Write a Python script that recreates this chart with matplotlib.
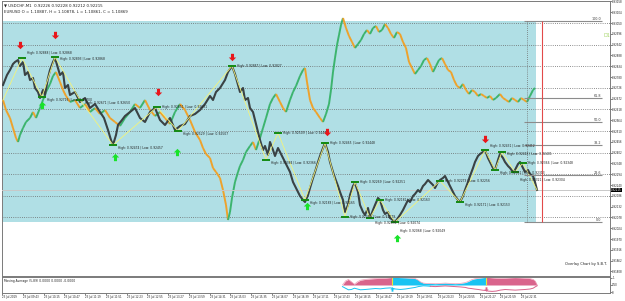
import numpy as np
import matplotlib.pyplot as plt
from matplotlib.collections import LineCollection
from matplotlib.patches import Rectangle

# ---- USDCHF M1 closes (bar position, price) ----
usd_bar = [3, 7, 10, 13, 15, 18, 20, 23, 25, 28, 30, 33, 35, 38, 40, 43, 45, 48, 50, 53,
           55, 58, 60, 63, 65, 68, 70, 75, 80, 85, 90, 95, 100, 104, 108, 111, 113, 116, 118, 122,
           125, 130, 135, 140, 145, 150, 155, 160, 165, 170, 175, 180, 185, 190, 195, 200, 205, 210, 213, 216,
           220, 225, 228, 232, 235, 238, 240, 243, 245, 248, 250, 253, 255, 258, 260, 263, 265, 268, 270, 273,
           275, 278, 280, 283, 285, 288, 290, 293, 295, 298, 300, 303, 305, 308, 310, 313, 315, 318, 320, 323,
           325, 328, 330, 333, 335, 338, 340, 343, 345, 348, 350, 353, 355, 358, 360, 363, 365, 368, 370, 373,
           375, 378, 380, 383, 385, 388, 390, 393, 395, 398, 400, 403, 405, 408, 410, 413, 415, 418, 420, 423,
           425, 428, 430, 433, 435, 438, 440, 443, 445, 448, 450, 453, 455, 458, 460, 463, 465, 468, 470, 473,
           475, 478, 480, 483, 485, 488, 490, 493, 495, 498, 500, 503, 505, 508, 510, 513, 515, 518, 520, 523,
           525, 528, 530, 533, 535, 537]
usd_close = [0.92740, 0.92790, 0.92815, 0.92845, 0.92855, 0.92865, 0.92835, 0.92855, 0.92790, 0.92805,
             0.92765, 0.92775, 0.92725, 0.92705, 0.92675, 0.92715, 0.92690, 0.92775, 0.92815, 0.92855,
             0.92875, 0.92825, 0.92790, 0.92805, 0.92725, 0.92740, 0.92690, 0.92705, 0.92655, 0.92675,
             0.92625, 0.92645, 0.92605, 0.92575, 0.92515, 0.92465, 0.92440, 0.92490, 0.92540, 0.92565,
             0.92585, 0.92605, 0.92625, 0.92575, 0.92555, 0.92605, 0.92625, 0.92565, 0.92540, 0.92575,
             0.92515, 0.92535, 0.92545, 0.92585, 0.92595, 0.92615, 0.92645, 0.92685, 0.92665, 0.92705,
             0.92725, 0.92765, 0.92805, 0.92835, 0.92795, 0.92740, 0.92705, 0.92725, 0.92665, 0.92675,
             0.92625, 0.92605, 0.92565, 0.92505, 0.92465, 0.92415, 0.92435, 0.92390, 0.92455, 0.92415,
             0.92385, 0.92425, 0.92405, 0.92375, 0.92355, 0.92325, 0.92305, 0.92255, 0.92235, 0.92205,
             0.92185, 0.92165, 0.92155, 0.92190, 0.92225, 0.92275, 0.92305, 0.92355, 0.92385, 0.92425,
             0.92450, 0.92405, 0.92355, 0.92305, 0.92275, 0.92235, 0.92205, 0.92165, 0.92105, 0.92140,
             0.92190, 0.92235, 0.92250, 0.92205, 0.92140, 0.92105, 0.92090, 0.92125, 0.92075, 0.92115,
             0.92140, 0.92175, 0.92165, 0.92115, 0.92095, 0.92105, 0.92075, 0.92065, 0.92055, 0.92075,
             0.92090, 0.92115, 0.92135, 0.92165, 0.92155, 0.92185, 0.92195, 0.92215, 0.92205, 0.92235,
             0.92245, 0.92265, 0.92255, 0.92240, 0.92225, 0.92255, 0.92265, 0.92275, 0.92285, 0.92255,
             0.92235, 0.92205, 0.92185, 0.92165, 0.92155, 0.92185, 0.92215, 0.92255, 0.92285, 0.92325,
             0.92355, 0.92385, 0.92395, 0.92405, 0.92415, 0.92375, 0.92355, 0.92325, 0.92315, 0.92365,
             0.92395, 0.92375, 0.92355, 0.92335, 0.92325, 0.92305, 0.92315, 0.92345, 0.92355, 0.92325,
             0.92305, 0.92315, 0.92295, 0.92285, 0.92255, 0.92215]

# ---- EURUSD overlay closes ----
eur_bar = [3, 6, 10, 13, 16, 18, 20, 23, 26, 30, 33, 36, 40, 43, 46, 50, 53, 56, 60, 63,
           66, 70, 75, 80, 85, 90, 95, 100, 105, 110, 115, 120, 125, 130, 135, 140, 145, 150, 155, 160,
           165, 170, 175, 180, 185, 190, 195, 200, 203, 206, 210, 213, 216, 220, 223, 226, 228, 230, 232, 235,
           238, 240, 243, 246, 250, 253, 256, 260, 263, 266, 270, 273, 276, 280, 283, 286, 290, 293, 296, 300,
           303, 305, 307, 310, 313, 316, 320, 323, 326, 329, 331, 333, 335, 337, 339, 341, 343, 346, 349, 352,
           355, 358, 361, 364, 367, 370, 373, 376, 379, 382, 385, 388, 391, 394, 397, 400, 403, 406, 409, 412,
           415, 418, 421, 424, 427, 430, 433, 436, 439, 442, 445, 448, 451, 454, 457, 460, 463, 466, 469, 472,
           475, 478, 481, 484, 487, 490, 493, 496, 500, 503, 506, 509, 512, 515, 518, 521, 524, 527, 530, 533,
           535]
eur_close = [1.10850, 1.10830, 1.10814, 1.10794, 1.10774, 1.10766, 1.10780, 1.10794, 1.10806, 1.10814,
             1.10826, 1.10814, 1.10834, 1.10850, 1.10866, 1.10882, 1.10898, 1.10906, 1.10886, 1.10870,
             1.10858, 1.10846, 1.10850, 1.10834, 1.10842, 1.10826, 1.10834, 1.10822, 1.10830, 1.10814,
             1.10806, 1.10798, 1.10814, 1.10826, 1.10842, 1.10834, 1.10850, 1.10830, 1.10818, 1.10826,
             1.10814, 1.10802, 1.10826, 1.10842, 1.10830, 1.10810, 1.10786, 1.10770, 1.10754, 1.10742,
             1.10734, 1.10714, 1.10706, 1.10694, 1.10670, 1.10640, 1.10610, 1.10626, 1.10654, 1.10686,
             1.10706, 1.10718, 1.10730, 1.10746, 1.10758, 1.10766, 1.10750, 1.10774, 1.10794, 1.10814,
             1.10842, 1.10854, 1.10862, 1.10846, 1.10834, 1.10826, 1.10850, 1.10866, 1.10878, 1.10898,
             1.10910, 1.10914, 1.10886, 1.10850, 1.10834, 1.10826, 1.10814, 1.10806, 1.10822, 1.10842,
             1.10870, 1.10906, 1.10934, 1.10960, 1.10980, 1.11000, 1.11014, 1.10994, 1.10978, 1.10966,
             1.10954, 1.10962, 1.10970, 1.10982, 1.10990, 1.10982, 1.10994, 1.10998, 1.10986, 1.10990,
             1.11002, 1.10994, 1.10982, 1.10974, 1.10986, 1.10982, 1.10966, 1.10954, 1.10926, 1.10914,
             1.10902, 1.10910, 1.10918, 1.10930, 1.10934, 1.10922, 1.10906, 1.10918, 1.10930, 1.10934,
             1.10922, 1.10910, 1.10906, 1.10890, 1.10878, 1.10874, 1.10882, 1.10870, 1.10862, 1.10870,
             1.10866, 1.10858, 1.10862, 1.10858, 1.10854, 1.10858, 1.10850, 1.10854, 1.10862, 1.10854,
             1.10850, 1.10846, 1.10854, 1.10850, 1.10846, 1.10854, 1.10850, 1.10846, 1.10858, 1.10870,
             1.10874]

# ---- zigzag pivots with their High/Low tags ----
zz_bar = [3, 22, 42, 55, 80, 113, 157, 178, 232, 266, 278, 305, 325, 345, 355, 370, 380, 395,
          440, 460, 485, 495, 502, 515, 523, 537]
zz_price = [0.92665, 0.92875, 0.92680, 0.92880, 0.92665, 0.92440, 0.92630, 0.92510, 0.92835,
            0.92365, 0.92500, 0.92165, 0.92450, 0.92080, 0.92255, 0.92075, 0.92165, 0.92055,
            0.92260, 0.92155, 0.92415, 0.92315, 0.92405, 0.92305, 0.92350, 0.92215]
zz_text = ["High: 0.92888 | Low: 0.92868", "High: 0.92716 | Low: 0.92700",
           "High: 0.92893 | Low: 0.92868", "High: 0.92671 | Low: 0.92650",
           "High: 0.92474 | Low: 0.92457", "High: 0.92651 | Low: 0.92631",
           "High: 0.92529 | Low: 0.92507", "High: 0.92847 | Low: 0.92827",
           "High: 0.92384 | Low: 0.92366", "High: 0.92509 | Low: 0.92494",
           "High: 0.92183 | Low: 0.92165", "High: 0.92465 | Low: 0.92448",
           "High: 0.92094 | Low: 0.92079", "High: 0.92269 | Low: 0.92251",
           "High: 0.92091 | Low: 0.92074", "High: 0.92181 | Low: 0.92163",
           "High: 0.92068 | Low: 0.92049", "High: 0.92273 | Low: 0.92256",
           "High: 0.92171 | Low: 0.92153", "High: 0.92431 | Low: 0.92412",
           "High: 0.92331 | Low: 0.92313", "High: 0.92418 | Low: 0.92401",
           "High: 0.92321 | Low: 0.92304", "High: 0.92366 | Low: 0.92348"]
# vertical nudge of each tag (pixels) so crowded tags stay readable
zz_dy = [5, -3, -2, -3, -3, 0, -3, 0, -3, 0, -3, 0, 0, 0, -5, 0, -9, 0, -3, 4, -3, -2, -8, 0]

# ---- fractal arrows ----
sell_bar = [20, 55, 158, 232, 327, 485]
sell_price = [0.92940, 0.92990, 0.92705, 0.92880, 0.92505, 0.92470]
buy_bar = [42, 115, 177, 307, 397]
buy_price = [0.92640, 0.92380, 0.92405, 0.92135, 0.91975]

# ---- D1 range / fibonacci ----
d1_high = 0.93060
d1_low = 0.92055
fib_ratio = [0.0, 0.236, 0.382, 0.5, 0.618, 1.0]
fib_label = ["0.0", "23.6", "38.2", "50.0", "61.8", "100.0"]

# ---- price scale ----
price_ticks = [0.93158, 0.93104, 0.93050, 0.92996, 0.92942, 0.92888, 0.92834, 0.92780, 0.92726,
               0.92672, 0.92618, 0.92564, 0.92510, 0.92456, 0.92402, 0.92348, 0.92294, 0.92240,
               0.92186, 0.92132, 0.92078, 0.92024, 0.91970, 0.91916, 0.91862, 0.91808]
grid_prices = [0.93050, 0.92942, 0.92834, 0.92726, 0.92618, 0.92510, 0.92402, 0.92294, 0.92186, 0.92078]

time_labels = ["23 Jul 2019", "23 Jul 09:43", "23 Jul 10:15", "23 Jul 10:47", "23 Jul 11:19",
               "23 Jul 11:51", "23 Jul 12:23", "23 Jul 12:55", "23 Jul 13:27", "23 Jul 13:59",
               "23 Jul 14:31", "23 Jul 15:03", "23 Jul 15:35", "23 Jul 16:07", "23 Jul 16:39",
               "23 Jul 17:11", "23 Jul 17:43", "23 Jul 18:15", "23 Jul 18:47", "23 Jul 19:19",
               "23 Jul 19:51", "23 Jul 20:23", "23 Jul 20:55", "23 Jul 21:27", "23 Jul 21:59",
               "23 Jul 22:31"]

# ---- oscillator sub window ----
osc_bar = [342, 345, 348, 351, 354, 357, 360, 365, 370, 375, 380, 385, 390, 392, 395, 400, 405, 410,
           415, 418, 420, 423, 426, 430, 435, 440, 445, 450, 455, 460, 465, 468, 471, 474, 478, 482,
           486, 488, 492, 496, 500, 505, 510, 515, 520, 525, 530, 533, 535, 537]
osc_fast = [0.5, 0.75, 0.85, 0.7, 0.55, 0.7, 0.8, 0.85, 0.88, 0.9, 0.92, 0.93, 0.96, 0.98, 0.98, 0.96,
            0.95, 0.93, 0.9, 0.8, 0.7, 0.62, 0.6, 0.6, 0.58, 0.6, 0.62, 0.6, 0.58, 0.6, 0.65, 0.72,
            0.82, 0.88, 0.92, 0.95, 0.98, 0.97, 0.95, 0.93, 0.92, 0.93, 0.95, 0.96, 0.95, 0.93, 0.9,
            0.85, 0.75, 0.5]
osc_slow = [0.4, 0.3, 0.2, 0.22, 0.3, 0.25, 0.2, 0.22, 0.25, 0.28, 0.26, 0.3, 0.32, 0.3, 0.25, 0.22,
            0.25, 0.3, 0.35, 0.4, 0.42, 0.45, 0.44, 0.42, 0.4, 0.42, 0.44, 0.42, 0.4, 0.38, 0.35, 0.3,
            0.28, 0.25, 0.22, 0.18, 0.15, 0.12, 0.1, 0.12, 0.18, 0.22, 0.2, 0.18, 0.2, 0.22, 0.25,
            0.3, 0.38, 0.45]
signal_bar = [392, 486]

CYAN_BOX = "#b0dfe5"
PINK = "#d9648c"
SKY = "#19c3f2"
TXT = "#202020"

DOWN = [(-0.25, 0.6), (0.25, 0.6), (0.25, 0.0), (0.6, 0.0), (0.0, -0.6), (-0.6, 0.0), (-0.25, 0.0)]
UP = [(x, -y) for x, y in DOWN]

fig = plt.figure(figsize=(6.25, 3.01), dpi=100)
ax = fig.add_axes([2 / 625, 25 / 301, 608 / 625, 275 / 301])
ax.set_xlim(2, 610)
ax.set_ylim(0.91785, 0.93160)

# day range box
ax.add_patch(Rectangle((3, d1_low), 533, d1_high - d1_low, facecolor=CYAN_BOX, edgecolor="none", zorder=0))
for p in grid_prices:
    ax.axhline(p, color="#6a6a6a", lw=0.6, ls=(0, (1, 1.6)), zorder=1)

# overlay symbol on its own scale
ax2 = ax.twinx()
ax2.set_ylim(1.10498, 1.11048)
ax2.set_yticks([])
ex = np.array(eur_bar, dtype=float)
ey = np.array(eur_close)
segs = [[(ex[i], ey[i]), (ex[i + 1], ey[i + 1])] for i in range(len(ex) - 1)]
cols = ["#3cb46e" if ey[i + 1] > ey[i] else "#eea22c" for i in range(len(ex) - 1)]
ax2.add_collection(LineCollection(segs, colors=cols, linewidths=1.4, zorder=2))
for s in ax2.spines.values():
    s.set_visible(False)

# main symbol on top
ax3 = ax.twinx()
ax3.set_ylim(ax.get_ylim())
ax3.set_yticks([])
for s in ax3.spines.values():
    s.set_visible(False)
ax3.plot(usd_bar, usd_close, color="#3a4244", lw=1.5, zorder=3)
ax3.plot(zz_bar, zz_price, color="#f3f37a", lw=0.6, zorder=4)
for i in range(1, len(zz_bar) - 1):
    b, p = zz_bar[i], zz_price[i]
    ax3.hlines(p, b - 4, b + 4, color="#138a13", lw=1.4, zorder=5)
    ax3.annotate(zz_text[i - 1], (b + 4, p), xytext=(1, zz_dy[i - 1]), textcoords="offset pixels",
                 fontsize=2.2, color=TXT, ha="left", va="center", zorder=6)
ax3.scatter(sell_bar, sell_price, marker=DOWN, s=28, color="#e8161b", zorder=6, linewidths=0)
ax3.scatter(buy_bar, buy_price, marker=UP, s=28, color="#19e32a", zorder=6, linewidths=0)

# current price line
last = usd_close[-1]
ax3.axhline(last, color="#c8c8c8", lw=0.7, zorder=1)

# fibonacci levels of the D1 range
for r, lab in zip(fib_ratio, fib_label):
    lv = d1_low + r * (d1_high - d1_low)
    ax3.hlines(lv, 524, 602, color="#8c8c8c", lw=0.8, zorder=4)
    ax3.text(601, lv, lab, fontsize=2.4, color="#404040", ha="right", va="bottom", zorder=6)
ax3.vlines(527, d1_low, d1_high, color="#707070", lw=0.6, ls=(0, (1, 1.5)), zorder=4)
ax3.vlines(542, d1_low, d1_high, color="#e24a4a", lw=0.8, zorder=4)
ax3.text(603, d1_high - 0.0007, "D1", fontsize=3.6, color="#a6d66a", ha="left", va="center")
ax3.text(607, 0.91845, "Overlay Chart by S.B.T.", fontsize=2.6, color=TXT, ha="right", va="center")

# price scale on the right
ax.yaxis.tick_right()
ax.set_yticks(price_ticks)
ax.set_yticklabels([f"{p:.5f}" for p in price_ticks])
ax.tick_params(axis="y", labelsize=1.9, length=1.2, width=0.4, pad=0.5, colors=TXT)
ax.set_xticks([])
ax.text(1.002, last, f"{last:.5f}", transform=ax.get_yaxis_transform(), fontsize=1.9, color="white",
        va="center", ha="left", bbox=dict(boxstyle="square,pad=0.15", fc="black", ec="none"), zorder=10)
for s in ax.spines.values():
    s.set_color("#7a7a7a")
    s.set_linewidth(0.7)

# header
ax.text(0.004, 0.992, "\u25bc USDCHF,M1  0.92226 0.92228 0.92212 0.92215", transform=ax.transAxes,
        fontsize=2.8, color=TXT, va="top", ha="left")
ax.text(0.004, 0.966, "EURUSD O = 1.10887, H = 1.10878, L = 1.10861, C = 1.10869", transform=ax.transAxes,
        fontsize=2.8, color=TXT, va="top", ha="left")

# sub window
sub = fig.add_axes([2 / 625, 8 / 301, 608 / 625, 16 / 301])
sub.set_xlim(2, 610)
sub.set_ylim(0, 1)
ob = np.array(osc_bar)
of = np.array(osc_fast)
osl = np.array(osc_slow)
bull = (ob >= signal_bar[0]) & (ob <= signal_bar[1])
bear_l = ob <= signal_bar[0]
bear_r = ob >= signal_bar[1]
sub.fill_between(ob, 0.5, of, where=bear_l, color=PINK, lw=0)
sub.fill_between(ob, 0.5, of, where=bear_r, color=PINK, lw=0)
sub.fill_between(ob, 0.5, of, where=bull, color=SKY, lw=0)
sub.plot(ob, of, color="#f0a0b8", lw=0.5)
blue_part = ob <= 430
sub.plot(ob[blue_part], osl[blue_part], color=SKY, lw=0.7)
sub.plot(ob[ob >= 430], osl[ob >= 430], color=PINK, lw=0.7)
sub.vlines(signal_bar, 0.5, 1.0, color="#e8e83a", lw=0.8)
sub.scatter([signal_bar[0]], [0.22], marker=UP, s=10, color=SKY, linewidths=0)
sub.scatter([signal_bar[1]], [0.22], marker=DOWN, s=10, color=PINK, linewidths=0)
sub.text(3, 0.78, "Moving Average (5,89) 0.0000 0.0000 -0.0000", fontsize=2.2, color=TXT, va="center")
sub.yaxis.tick_right()
sub.set_yticks([0.05, 0.5, 0.95])
sub.set_yticklabels(["0", "0.50", "1"])
sub.tick_params(axis="y", labelsize=1.9, length=1.2, width=0.4, pad=0.5, colors=TXT)
sub.set_xticks(np.linspace(1, 521, len(time_labels)))
sub.set_xticklabels(time_labels)
sub.tick_params(axis="x", labelsize=1.9, length=1.2, width=0.4, pad=0.5, colors=TXT)
for t in sub.get_xticklabels():
    t.set_ha("left")
for s in sub.spines.values():
    s.set_color("#7a7a7a")
    s.set_linewidth(0.7)

fig.savefig("out.png", dpi=100)
